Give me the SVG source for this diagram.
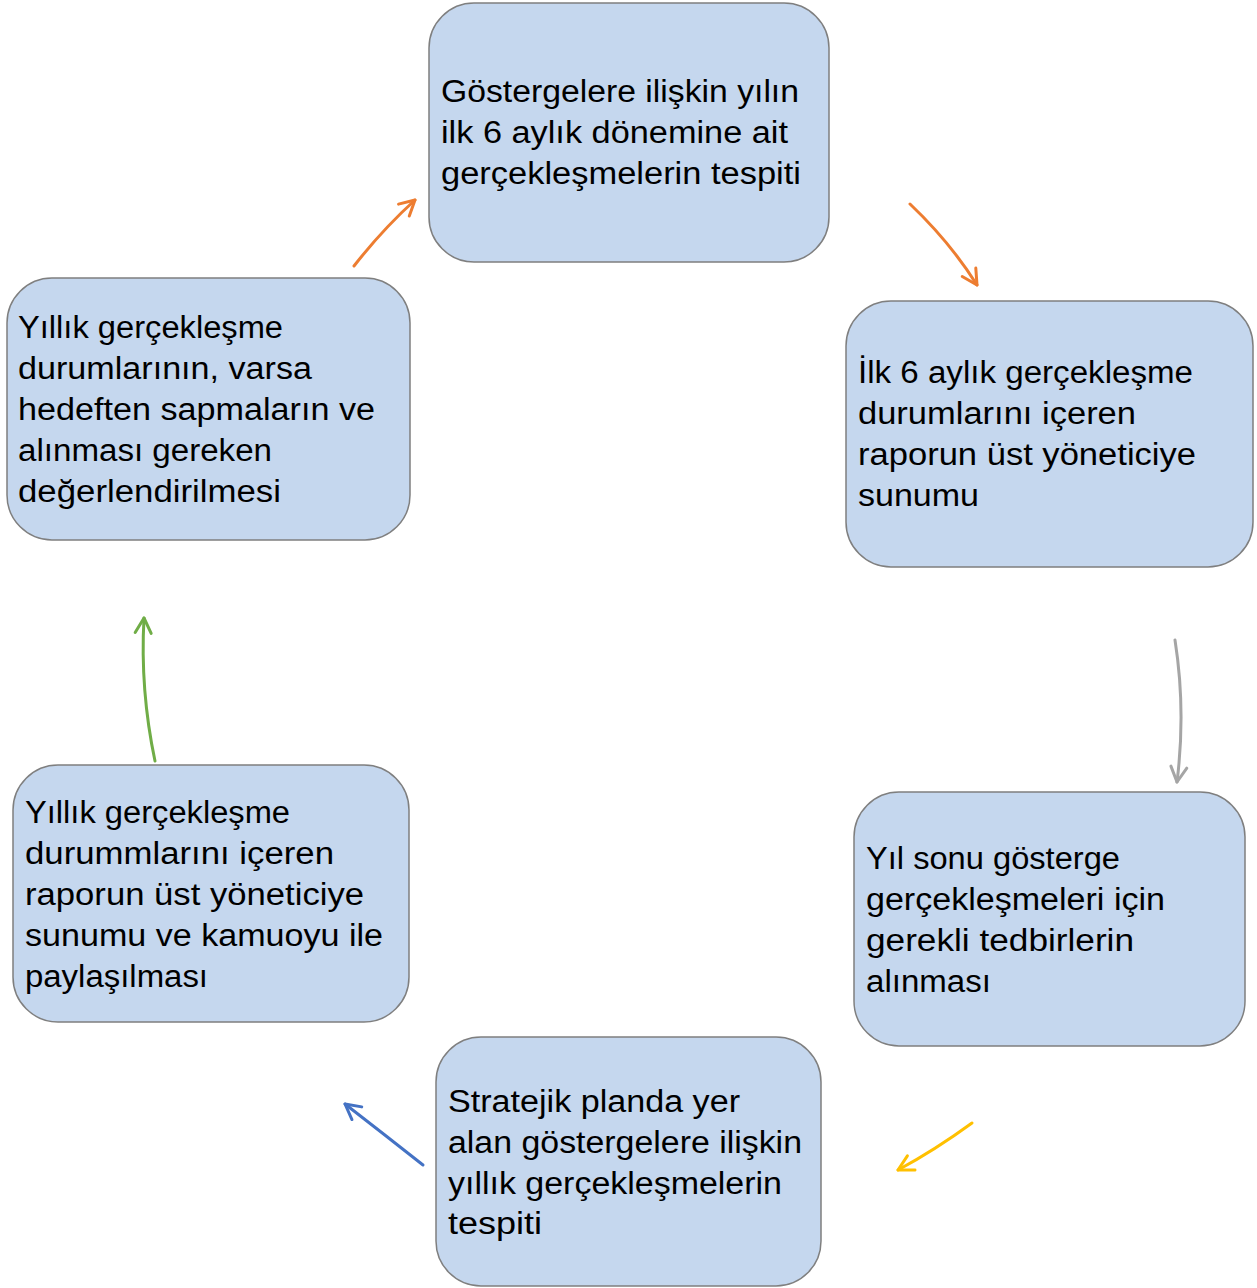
<svg xmlns="http://www.w3.org/2000/svg" width="1257" height="1288" viewBox="0 0 1257 1288">
<style>
.box{fill:#C5D7EE;stroke:#7F7F7F;stroke-width:1.5}
.t{font-family:"Liberation Sans",Arial,sans-serif;font-size:31px;fill:#000}
.c{fill:none;stroke-width:3;stroke-linecap:round}
</style>
<defs>
<marker id="mo" viewBox="0 0 20 20" refX="18" refY="10" markerWidth="20" markerHeight="20" markerUnits="userSpaceOnUse" orient="auto"><path d="M3,2 L18,10 L3,18" fill="none" stroke="#ED7D31" stroke-width="3" stroke-linecap="round" stroke-linejoin="round"/></marker>
<marker id="mg" viewBox="0 0 20 20" refX="18" refY="10" markerWidth="20" markerHeight="20" markerUnits="userSpaceOnUse" orient="auto"><path d="M3,2 L18,10 L3,18" fill="none" stroke="#A5A5A5" stroke-width="3" stroke-linecap="round" stroke-linejoin="round"/></marker>
<marker id="my" viewBox="0 0 20 20" refX="18" refY="10" markerWidth="20" markerHeight="20" markerUnits="userSpaceOnUse" orient="auto"><path d="M3,2 L18,10 L3,18" fill="none" stroke="#FFC000" stroke-width="3" stroke-linecap="round" stroke-linejoin="round"/></marker>
<marker id="mb" viewBox="0 0 20 20" refX="18" refY="10" markerWidth="20" markerHeight="20" markerUnits="userSpaceOnUse" orient="auto"><path d="M3,2 L18,10 L3,18" fill="none" stroke="#4472C4" stroke-width="3" stroke-linecap="round" stroke-linejoin="round"/></marker>
<marker id="mgr" viewBox="0 0 20 20" refX="18" refY="10" markerWidth="20" markerHeight="20" markerUnits="userSpaceOnUse" orient="auto"><path d="M3,2 L18,10 L3,18" fill="none" stroke="#70AD47" stroke-width="3" stroke-linecap="round" stroke-linejoin="round"/></marker>
</defs>

<g id="connectors">
<path class="c" stroke="#ED7D31" d="M354,266 Q382,230 415,200" marker-end="url(#mo)"/>
<path class="c" stroke="#ED7D31" d="M910,204 Q950,242 977,285" marker-end="url(#mo)"/>
<path class="c" stroke="#A5A5A5" d="M1175,640 Q1186,710 1177,782" marker-end="url(#mg)"/>
<path class="c" stroke="#FFC000" d="M972,1123 Q935,1150 898,1170" marker-end="url(#my)"/>
<path class="c" stroke="#4472C4" d="M423,1165 Q385,1135 345,1104" marker-end="url(#mb)"/>
<path class="c" stroke="#70AD47" d="M155,761 Q140,690 144,618" marker-end="url(#mgr)"/>
</g>

<g id="node1">
<rect class="box" x="429" y="3" width="400" height="259" rx="45"/>
<text class="t"><tspan x="441" y="102" textLength="358" lengthAdjust="spacingAndGlyphs">Göstergelere ilişkin yılın</tspan><tspan x="441" y="143" textLength="347" lengthAdjust="spacingAndGlyphs">ilk 6 aylık dönemine ait</tspan><tspan x="441" y="184" textLength="360" lengthAdjust="spacingAndGlyphs">gerçekleşmelerin tespiti</tspan></text>
</g>

<g id="node2">
<rect class="box" x="846" y="301" width="407" height="266" rx="45"/>
<text class="t"><tspan x="858" y="383" textLength="335" lengthAdjust="spacingAndGlyphs">İlk 6 aylık gerçekleşme</tspan><tspan x="858" y="424" textLength="278" lengthAdjust="spacingAndGlyphs">durumlarını içeren</tspan><tspan x="858" y="465" textLength="338" lengthAdjust="spacingAndGlyphs">raporun üst yöneticiye</tspan><tspan x="858" y="506" textLength="121" lengthAdjust="spacingAndGlyphs">sunumu</tspan></text>
</g>

<g id="node3">
<rect class="box" x="854" y="792" width="391" height="254" rx="45"/>
<text class="t"><tspan x="866" y="869" textLength="254" lengthAdjust="spacingAndGlyphs">Yıl sonu gösterge</tspan><tspan x="866" y="910" textLength="299" lengthAdjust="spacingAndGlyphs">gerçekleşmeleri için</tspan><tspan x="866" y="951" textLength="268" lengthAdjust="spacingAndGlyphs">gerekli tedbirlerin</tspan><tspan x="866" y="992" textLength="125" lengthAdjust="spacingAndGlyphs">alınması</tspan></text>
</g>

<g id="node4">
<rect class="box" x="436" y="1037" width="385" height="249" rx="45"/>
<text class="t"><tspan x="448" y="1112" textLength="292" lengthAdjust="spacingAndGlyphs">Stratejik planda yer</tspan><tspan x="448" y="1153" textLength="354" lengthAdjust="spacingAndGlyphs">alan göstergelere ilişkin</tspan><tspan x="448" y="1194" textLength="334" lengthAdjust="spacingAndGlyphs">yıllık gerçekleşmelerin</tspan><tspan x="448" y="1234" textLength="94" lengthAdjust="spacingAndGlyphs">tespiti</tspan></text>
</g>

<g id="node5">
<rect class="box" x="13" y="765" width="396" height="257" rx="45"/>
<text class="t"><tspan x="25" y="823" textLength="265" lengthAdjust="spacingAndGlyphs">Yıllık gerçekleşme</tspan><tspan x="25" y="864" textLength="309" lengthAdjust="spacingAndGlyphs">durummlarını içeren</tspan><tspan x="25" y="905" textLength="339" lengthAdjust="spacingAndGlyphs">raporun üst yöneticiye</tspan><tspan x="25" y="946" textLength="358" lengthAdjust="spacingAndGlyphs">sunumu ve kamuoyu ile</tspan><tspan x="25" y="987" textLength="183" lengthAdjust="spacingAndGlyphs">paylaşılması</tspan></text>
</g>

<g id="node6">
<rect class="box" x="7" y="278" width="403" height="262" rx="45"/>
<text class="t"><tspan x="18" y="338" textLength="265" lengthAdjust="spacingAndGlyphs">Yıllık gerçekleşme</tspan><tspan x="18" y="379" textLength="294" lengthAdjust="spacingAndGlyphs">durumlarının, varsa</tspan><tspan x="18" y="420" textLength="357" lengthAdjust="spacingAndGlyphs">hedeften sapmaların ve</tspan><tspan x="18" y="461" textLength="254" lengthAdjust="spacingAndGlyphs">alınması gereken</tspan><tspan x="18" y="502" textLength="263" lengthAdjust="spacingAndGlyphs">değerlendirilmesi</tspan></text>
</g>
</svg>
